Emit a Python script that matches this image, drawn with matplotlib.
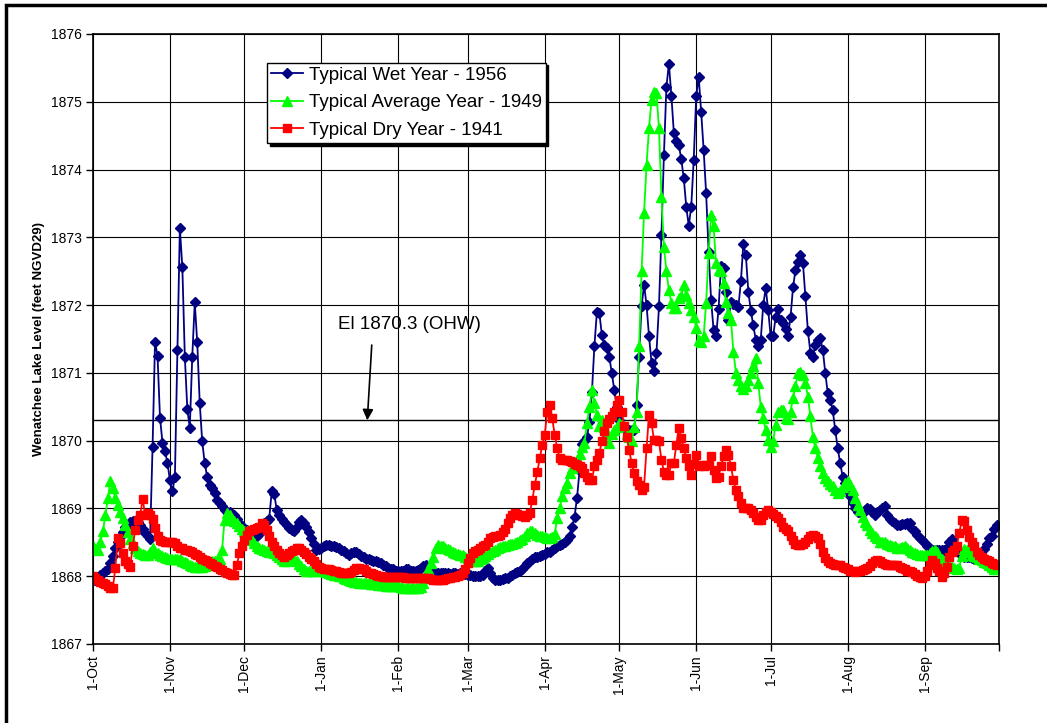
import matplotlib.pyplot as plt
from matplotlib.patches import Rectangle

plt.rcParams['font.family'] = ['Liberation Sans', 'DejaVu Sans']

# Daily lake elevations, 1-Oct through 30-Sep (feet NGVD29)
wet_1956 = [
    # Oct
    1867.95, 1867.95, 1867.98, 1868.02, 1868.05, 1868.07, 1868.10, 1868.20, 1868.30, 1868.42,
    1868.50, 1868.58, 1868.65, 1868.72, 1868.76, 1868.80, 1868.82, 1868.80, 1868.80, 1868.75,
    1868.70, 1868.64, 1868.60, 1868.55, 1869.90, 1871.46, 1871.25, 1870.34, 1869.97, 1869.85,
    1869.67,
    # Nov
    1869.42, 1869.25, 1869.46, 1871.34, 1873.14, 1872.56, 1871.24, 1870.47, 1870.19, 1871.24,
    1872.04, 1871.45, 1870.56, 1869.99, 1869.67, 1869.47, 1869.35, 1869.30, 1869.23, 1869.13,
    1869.08, 1869.03, 1868.98, 1868.95, 1868.95, 1868.92, 1868.90, 1868.85, 1868.79, 1868.74,
    # Dec
    1868.70, 1868.68, 1868.66, 1868.64, 1868.62, 1868.60, 1868.62, 1868.70, 1868.78, 1868.82,
    1868.85, 1869.25, 1869.22, 1868.98, 1868.90, 1868.85, 1868.80, 1868.75, 1868.71, 1868.68,
    1868.66, 1868.72, 1868.80, 1868.83, 1868.78, 1868.73, 1868.65, 1868.57, 1868.47, 1868.39,
    1868.40,
    # Jan
    1868.42, 1868.44, 1868.46, 1868.46, 1868.45, 1868.45, 1868.43, 1868.41, 1868.39, 1868.37,
    1868.34, 1868.32, 1868.34, 1868.36, 1868.36, 1868.33, 1868.30, 1868.28, 1868.26, 1868.25,
    1868.24, 1868.23, 1868.22, 1868.21, 1868.19, 1868.17, 1868.15, 1868.12, 1868.11, 1868.10,
    1868.08,
    # Feb
    1868.07, 1868.07, 1868.08, 1868.10, 1868.10, 1868.08, 1868.07, 1868.07, 1868.09, 1868.12,
    1868.15, 1868.17, 1868.14, 1868.10, 1868.07, 1868.05, 1868.05, 1868.05, 1868.04, 1868.05,
    1868.04, 1868.03, 1868.05, 1868.04, 1868.03, 1868.05, 1868.04, 1868.03,
    # Mar
    1868.02, 1868.02, 1868.01, 1868.00, 1868.00, 1868.00, 1868.02, 1868.08, 1868.12, 1868.05,
    1867.97, 1867.95, 1867.95, 1867.95, 1867.96, 1867.97, 1867.98, 1868.00, 1868.02, 1868.04,
    1868.06, 1868.08, 1868.11, 1868.15, 1868.19, 1868.23, 1868.26, 1868.28, 1868.29, 1868.30,
    1868.31,
    # Apr
    1868.33, 1868.35, 1868.36, 1868.38, 1868.42, 1868.44, 1868.46, 1868.48, 1868.51, 1868.54,
    1868.60, 1868.73, 1868.88, 1869.16, 1869.55, 1869.95, 1870.00, 1870.05, 1870.28, 1870.72,
    1871.40, 1871.90, 1871.88, 1871.56, 1871.41, 1871.36, 1871.24, 1871.00, 1870.75, 1870.50,
    # May
    1870.30, 1870.21, 1870.20, 1870.16, 1870.16, 1870.16, 1870.16, 1870.53, 1871.24, 1871.98,
    1872.30, 1872.00, 1871.54, 1871.15, 1871.03, 1871.30, 1871.98, 1873.04, 1874.22, 1875.22,
    1875.56, 1875.09, 1874.54, 1874.42, 1874.36, 1874.15, 1873.87, 1873.45, 1873.17, 1873.45,
    1874.14,
    # Jun
    1875.08, 1875.37, 1874.85, 1874.29, 1873.65, 1872.79, 1872.08, 1871.63, 1871.54, 1871.94,
    1872.58, 1872.55, 1872.20, 1871.78, 1872.05, 1872.02, 1872.00, 1871.97, 1872.35, 1872.90,
    1872.74, 1872.20, 1871.92, 1871.70, 1871.49, 1871.39, 1871.49, 1872.00, 1872.25, 1871.93,
    # Jul
    1871.54, 1871.54, 1871.82, 1871.94, 1871.78, 1871.74, 1871.64, 1871.55, 1871.82, 1872.26,
    1872.52, 1872.64, 1872.74, 1872.62, 1872.13, 1871.62, 1871.30, 1871.24, 1871.41, 1871.48,
    1871.51, 1871.34, 1871.00, 1870.70, 1870.60, 1870.45, 1870.16, 1869.89, 1869.67, 1869.47,
    1869.37,
    # Aug
    1869.25, 1869.18, 1869.08, 1869.00, 1868.95, 1868.94, 1868.93, 1868.97, 1869.00, 1868.99,
    1868.95, 1868.90, 1868.94, 1868.98, 1869.00, 1869.03, 1868.90, 1868.85, 1868.81, 1868.78,
    1868.76, 1868.76, 1868.77, 1868.77, 1868.78, 1868.78, 1868.70, 1868.66, 1868.61, 1868.57,
    1868.54,
    # Sep
    1868.49, 1868.44, 1868.41, 1868.39, 1868.39, 1868.39, 1868.39, 1868.38, 1868.39, 1868.42,
    1868.50, 1868.55, 1868.47, 1868.40, 1868.34, 1868.31, 1868.29, 1868.28, 1868.28, 1868.27,
    1868.26, 1868.26, 1868.28, 1868.30, 1868.40, 1868.47, 1868.56, 1868.60, 1868.70, 1868.76,
]

average_1949 = [
    # Oct
    1868.45, 1868.40, 1868.38, 1868.50, 1868.66, 1868.90, 1869.15, 1869.40, 1869.30, 1869.15,
    1869.05, 1868.95, 1868.86, 1868.75, 1868.65, 1868.55, 1868.49, 1868.42, 1868.37, 1868.34,
    1868.33, 1868.32, 1868.32, 1868.36, 1868.41, 1868.36, 1868.34, 1868.32, 1868.30, 1868.28,
    1868.27,
    # Nov
    1868.26, 1868.25, 1868.25, 1868.25, 1868.25, 1868.23, 1868.21, 1868.20, 1868.17, 1868.15,
    1868.14, 1868.14, 1868.14, 1868.14, 1868.15, 1868.16, 1868.20, 1868.22, 1868.23, 1868.24,
    1868.26, 1868.39, 1868.83, 1868.93, 1868.90, 1868.85, 1868.81, 1868.78, 1868.74, 1868.69,
    # Dec
    1868.67, 1868.66, 1868.60, 1868.53, 1868.49, 1868.45, 1868.42, 1868.40, 1868.39, 1868.37,
    1868.36, 1868.35, 1868.34, 1868.32, 1868.29, 1868.25, 1868.22, 1868.22, 1868.24, 1868.25,
    1868.24, 1868.22, 1868.18, 1868.15, 1868.10, 1868.07, 1868.07, 1868.07, 1868.08, 1868.10,
    1868.09,
    # Jan
    1868.08, 1868.07, 1868.06, 1868.04, 1868.03, 1868.02, 1868.02, 1868.01, 1868.00, 1867.98,
    1867.96, 1867.95, 1867.93, 1867.92, 1867.91, 1867.90, 1867.90, 1867.90, 1867.90, 1867.90,
    1867.89, 1867.88, 1867.88, 1867.87, 1867.87, 1867.87, 1867.86, 1867.86, 1867.86, 1867.85,
    1867.85,
    # Feb
    1867.85, 1867.84, 1867.83, 1867.83, 1867.83, 1867.83, 1867.83, 1867.83, 1867.83, 1867.84,
    1867.90, 1867.98, 1868.10, 1868.20, 1868.29, 1868.42, 1868.46, 1868.45, 1868.44, 1868.42,
    1868.40, 1868.38, 1868.36, 1868.34, 1868.33, 1868.32, 1868.31, 1868.29,
    # Mar
    1868.27, 1868.25, 1868.23, 1868.22, 1868.22, 1868.25, 1868.27, 1868.30, 1868.33, 1868.35,
    1868.37, 1868.39, 1868.41, 1868.43, 1868.44, 1868.45, 1868.46, 1868.47, 1868.48, 1868.49,
    1868.51, 1868.53, 1868.55, 1868.60, 1868.64, 1868.66, 1868.66, 1868.63, 1868.61, 1868.60,
    1868.59,
    # Apr
    1868.58, 1868.57, 1868.57, 1868.58, 1868.62, 1868.86, 1869.00, 1869.18, 1869.30, 1869.37,
    1869.52, 1869.60, 1869.66, 1869.72, 1869.80, 1869.90, 1869.96, 1870.26, 1870.50, 1870.75,
    1870.55, 1870.38, 1870.21, 1870.30, 1870.20, 1870.10, 1869.96, 1870.10, 1870.15, 1870.20,
    # May
    1870.26, 1870.24, 1870.21, 1870.10, 1870.05, 1870.00, 1870.20, 1870.43, 1871.39, 1872.50,
    1873.36, 1874.07, 1874.61, 1875.03, 1875.15, 1875.13, 1874.61, 1873.60, 1872.86, 1872.50,
    1872.22, 1872.03, 1871.95, 1871.95, 1872.10, 1872.13, 1872.30, 1872.15, 1872.03, 1871.93,
    1871.83,
    # Jun
    1871.66, 1871.49, 1871.46, 1871.54, 1872.03, 1872.77, 1873.33, 1873.16, 1872.62, 1872.52,
    1872.50, 1872.32, 1872.04, 1871.88, 1871.78, 1871.31, 1871.00, 1870.90, 1870.80, 1870.76,
    1870.80, 1870.90, 1871.00, 1871.10, 1871.22, 1870.85, 1870.50, 1870.33, 1870.16, 1870.01,
    # Jul
    1869.91, 1870.00, 1870.23, 1870.43, 1870.45, 1870.45, 1870.33, 1870.32, 1870.43, 1870.63,
    1870.80, 1871.00, 1871.02, 1870.97, 1870.85, 1870.65, 1870.36, 1870.06, 1869.89, 1869.74,
    1869.62, 1869.52, 1869.45, 1869.40, 1869.36, 1869.33, 1869.27, 1869.23, 1869.25, 1869.32,
    1869.37,
    # Aug
    1869.40, 1869.35, 1869.27, 1869.15, 1869.05, 1868.98, 1868.88, 1868.80, 1868.75, 1868.68,
    1868.63, 1868.60, 1868.56, 1868.51, 1868.51, 1868.51, 1868.48, 1868.46, 1868.45, 1868.44,
    1868.42, 1868.41, 1868.43, 1868.44, 1868.41, 1868.39, 1868.36, 1868.34, 1868.33, 1868.32,
    1868.32,
    # Sep
    1868.32, 1868.32, 1868.34, 1868.37, 1868.39, 1868.36, 1868.30, 1868.25, 1868.22, 1868.19,
    1868.17, 1868.14, 1868.12, 1868.10, 1868.12, 1868.30, 1868.40, 1868.38, 1868.35, 1868.32,
    1868.30, 1868.28, 1868.26, 1868.24, 1868.21, 1868.19, 1868.17, 1868.14, 1868.11, 1868.10,
]

dry_1941 = [
    # Oct
    1868.00, 1867.97, 1867.95, 1867.92, 1867.90, 1867.88, 1867.85, 1867.83, 1867.82, 1868.12,
    1868.56, 1868.49, 1868.34, 1868.22, 1868.18, 1868.14, 1868.44, 1868.68, 1868.83, 1868.90,
    1869.14, 1868.91, 1868.93, 1868.91, 1868.85, 1868.71, 1868.59, 1868.54, 1868.52, 1868.51,
    1868.51,
    # Nov
    1868.51, 1868.50, 1868.49, 1868.45, 1868.42, 1868.41, 1868.39, 1868.38, 1868.37, 1868.35,
    1868.33, 1868.31, 1868.28, 1868.26, 1868.24, 1868.22, 1868.20, 1868.18, 1868.15, 1868.13,
    1868.11, 1868.09, 1868.06, 1868.04, 1868.03, 1868.02, 1868.02, 1868.17, 1868.34, 1868.44,
    # Dec
    1868.54, 1868.61, 1868.66, 1868.68, 1868.70, 1868.71, 1868.72, 1868.78, 1868.75, 1868.68,
    1868.59, 1868.50, 1868.44, 1868.38, 1868.34, 1868.31, 1868.29, 1868.31, 1868.34, 1868.37,
    1868.39, 1868.41, 1868.41, 1868.38, 1868.36, 1868.33, 1868.29, 1868.25, 1868.22, 1868.18,
    1868.14,
    # Jan
    1868.12, 1868.10, 1868.10, 1868.10, 1868.09, 1868.08, 1868.07, 1868.06, 1868.05, 1868.04,
    1868.04, 1868.04, 1868.06, 1868.09, 1868.12, 1868.12, 1868.11, 1868.10, 1868.08, 1868.05,
    1868.04, 1868.03, 1868.02, 1868.01, 1868.00, 1867.99, 1867.99, 1867.99, 1867.99, 1867.99,
    1867.99,
    # Feb
    1867.99, 1867.99, 1867.99, 1867.98, 1867.98, 1867.98, 1867.97, 1867.97, 1867.97, 1867.97,
    1867.97, 1867.97, 1867.97, 1867.96, 1867.95, 1867.95, 1867.95, 1867.95, 1867.95, 1867.96,
    1867.97, 1867.98, 1867.99, 1867.99, 1868.00, 1868.02, 1868.04, 1868.10,
    # Mar
    1868.19, 1868.27, 1868.34, 1868.37, 1868.39, 1868.41, 1868.44, 1868.46, 1868.50, 1868.56,
    1868.58, 1868.59, 1868.60, 1868.61, 1868.65, 1868.70, 1868.78, 1868.86, 1868.90, 1868.93,
    1868.92, 1868.90, 1868.89, 1868.88, 1868.90, 1868.93, 1869.13, 1869.35, 1869.54, 1869.74,
    1869.94,
    # Apr
    1870.09, 1870.43, 1870.53, 1870.33, 1870.09, 1869.89, 1869.74, 1869.72, 1869.72, 1869.72,
    1869.70, 1869.69, 1869.66, 1869.64, 1869.62, 1869.59, 1869.52, 1869.47, 1869.42, 1869.42,
    1869.62, 1869.72, 1869.82, 1869.99, 1870.14, 1870.26, 1870.32, 1870.36, 1870.43, 1870.53,
    # May
    1870.60, 1870.43, 1870.21, 1870.05, 1869.86, 1869.67, 1869.52, 1869.40, 1869.35, 1869.27,
    1869.32, 1869.89, 1870.38, 1870.26, 1870.01, 1870.01, 1869.99, 1869.72, 1869.54, 1869.50,
    1869.50, 1869.67, 1869.67, 1869.94, 1870.18, 1870.04, 1869.89, 1869.74, 1869.62, 1869.50,
    1869.65,
    # Jun
    1869.79, 1869.62, 1869.64, 1869.62, 1869.64, 1869.64, 1869.77, 1869.57, 1869.45, 1869.47,
    1869.62, 1869.77, 1869.86, 1869.79, 1869.62, 1869.42, 1869.27, 1869.18, 1869.08, 1869.00,
    1869.00, 1869.00, 1868.98, 1868.93, 1868.88, 1868.83, 1868.83, 1868.90, 1868.95, 1868.98,
    # Jul
    1868.95, 1868.92, 1868.89, 1868.86, 1868.80, 1868.73, 1868.69, 1868.66, 1868.60, 1868.53,
    1868.48, 1868.46, 1868.46, 1868.48, 1868.51, 1868.55, 1868.60, 1868.61, 1868.60, 1868.56,
    1868.47, 1868.36, 1868.27, 1868.22, 1868.19, 1868.18, 1868.17, 1868.17, 1868.16, 1868.14,
    1868.12,
    # Aug
    1868.10, 1868.08, 1868.07, 1868.06, 1868.07, 1868.08, 1868.09, 1868.10, 1868.12, 1868.15,
    1868.19, 1868.22, 1868.24, 1868.22, 1868.19, 1868.18, 1868.17, 1868.17, 1868.17, 1868.17,
    1868.16, 1868.14, 1868.12, 1868.10, 1868.08, 1868.07, 1868.06, 1868.03, 1868.01, 1867.99,
    1867.97,
    # Sep
    1868.00, 1868.08, 1868.17, 1868.24, 1868.20, 1868.12, 1868.07, 1867.99, 1868.05, 1868.14,
    1868.29, 1868.36, 1868.38, 1868.45, 1868.64, 1868.83, 1868.81, 1868.68, 1868.58, 1868.50,
    1868.44, 1868.36, 1868.32, 1868.29, 1868.26, 1868.24, 1868.22, 1868.19, 1868.18, 1868.17,
]

# first day of each month, counted from 1-Oct
month_starts = [0, 31, 61, 92, 123, 151, 182, 212, 243, 273, 304, 335]
month_labels = ['1-Oct', '1-Nov', '1-Dec', '1-Jan', '1-Feb', '1-Mar',
                '1-Apr', '1-May', '1-Jun', '1-Jul', '1-Aug', '1-Sep']
ohw = 1870.3

days = list(range(len(wet_1956)))

fig = plt.figure(figsize=(10.47, 7.23), dpi=100)
ax = fig.add_axes([0.0888, 0.1093, 0.8654, 0.8437])

ax.plot(days, wet_1956, color='#000080', lw=1.3, marker='D', ms=5,
        label='Typical Wet Year - 1956')
ax.plot(days, average_1949, color='#00ff00', lw=1.3, marker='^', ms=6.5,
        label='Typical Average Year - 1949')
ax.plot(days, dry_1941, color='#ff0000', lw=1.3, marker='s', ms=6,
        label='Typical Dry Year - 1941')

# ordinary high water line with its label and pointer
ax.axhline(ohw, color='black', lw=1.0, zorder=1)
ax.text(127.5, 1871.71, 'El 1870.3 (OHW)', fontsize=13.5, ha='center', va='center')
ax.annotate('', xy=(110.5, ohw), xytext=(112.3, 1871.41),
            arrowprops=dict(arrowstyle='-|>', color='black', lw=1.2,
                            mutation_scale=16, shrinkA=0, shrinkB=0))

ax.set_xlim(0, 365)
ax.set_ylim(1867, 1876)
ax.set_xticks(month_starts + [365])
ax.set_xticklabels(month_labels + [''], rotation=90, fontsize=10)
ax.set_yticks(range(1867, 1877))
ax.set_yticklabels([str(v) for v in range(1867, 1877)], fontsize=10)
ax.tick_params(direction='out', length=5, width=1, color='black', pad=3)
ax.grid(True, color='black', lw=0.8)
ax.set_axisbelow(True)
for s in ax.spines.values():
    s.set_linewidth(1.2)

ax.set_ylabel('Wenatchee Lake Level (feet NGVD29)', fontsize=9.5,
              fontweight='bold', labelpad=4)

leg = ax.legend(loc='upper left', bbox_to_anchor=(0.192, 0.953), fontsize=13.5,
                frameon=True, fancybox=False, shadow={'color': 'black', 'alpha': 1},
                edgecolor='black', framealpha=1, borderpad=0.22,
                handlelength=1.7, handletextpad=0.3, labelspacing=0.55,
                borderaxespad=0)
leg.get_frame().set_linewidth(1.0)

# outer frame around the whole figure
fig.patches.append(Rectangle((6 / 1047, -0.05), 1.1, 1 - 5 / 723 + 0.05,
                             transform=fig.transFigure, fill=False,
                             edgecolor='black', lw=2.5))

fig.savefig('out.png', dpi=100)
